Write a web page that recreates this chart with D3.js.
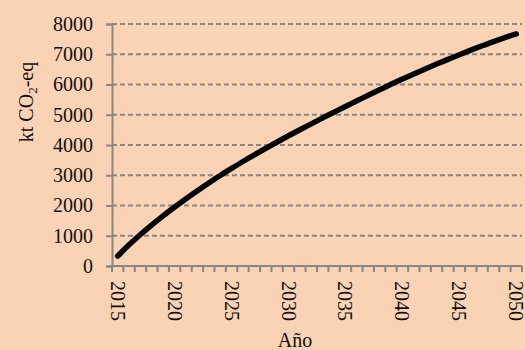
<!DOCTYPE html>
<html>
<head>
<meta charset="utf-8">
<script src="https://cdn.jsdelivr.net/npm/d3@7/dist/d3.min.js"></script>
<style>
  html, body { margin: 0; padding: 0; background: #f9d3b4; }
  svg { display: block; font-family: "Liberation Serif", "Times New Roman", serif; }
</style>
</head>
<body>
<svg id="chart" width="525" height="350"></svg>
<script>
// Annual emissions, kt CO2-eq
const years = d3.range(2015, 2051);
const emissions = [
  330, 700, 1040, 1360, 1660, 1950, 2225, 2490, 2745, 2990,
  3225, 3455, 3675, 3890, 4100, 4305, 4505, 4700, 4895, 5085,
  5275, 5460, 5645, 5825, 6005, 6180, 6350, 6515, 6675, 6830,
  6985, 7135, 7280, 7420, 7550, 7670
];
const yTicks = [0, 1000, 2000, 3000, 4000, 5000, 6000, 7000, 8000];
const xLabelYears = [2015, 2020, 2025, 2030, 2035, 2040, 2045, 2050];

const svg = d3.select("#chart");
const axisColor = "#878787";
const plotLeft = 112, plotRight = 522, plotTop = 24, plotBottom = 266;

const x = d3.scaleBand().domain(years).range([plotLeft, plotRight]).paddingInner(0).paddingOuter(0);
const y = d3.scaleLinear().domain([0, 8000]).range([plotBottom, plotTop]);

// dashed horizontal gridlines
svg.append("g").selectAll("line")
  .data(yTicks.filter(d => d > 0))
  .join("line")
  .attr("x1", plotLeft).attr("x2", plotRight)
  .attr("y1", d => y(d)).attr("y2", d => y(d))
  .attr("stroke", axisColor).attr("stroke-width", 2)
  .attr("stroke-dasharray", "5,3");

// y axis
const yAxis = svg.append("g")
  .attr("transform", `translate(${plotLeft},0)`)
  .call(d3.axisLeft(y).tickValues(yTicks).tickSize(6).tickPadding(13).tickFormat(d3.format("d")));
yAxis.select(".domain").attr("stroke", axisColor).attr("stroke-width", 2);
yAxis.selectAll(".tick line").attr("stroke", axisColor).attr("stroke-width", 2);
yAxis.selectAll(".tick text")
  .attr("font-size", 20).attr("fill", "#111")
  .attr("font-family", "Liberation Serif, Times New Roman, serif");

// x axis: labels at category centres, ticks on category boundaries
const xAxis = svg.append("g")
  .attr("transform", `translate(0,${plotBottom})`)
  .call(d3.axisBottom(x).tickValues(xLabelYears).tickSize(0).tickPadding(0));
xAxis.select(".domain").remove();
xAxis.selectAll(".tick text")
  .attr("font-size", 20).attr("fill", "#111")
  .attr("font-family", "Liberation Serif, Times New Roman, serif")
  .attr("text-anchor", "start")
  .attr("transform", "translate(0,15) rotate(90)")
  .attr("x", 0).attr("y", 0).attr("dy", "0.35em");

const boundaries = years.map(d => x(d)).concat([plotRight]);
svg.append("g").selectAll("line")
  .data(boundaries)
  .join("line")
  .attr("x1", d => d).attr("x2", d => d)
  .attr("y1", plotBottom).attr("y2", plotBottom + 6)
  .attr("stroke", axisColor).attr("stroke-width", 2);
svg.append("line")
  .attr("x1", plotLeft - 1).attr("x2", plotRight)
  .attr("y1", plotBottom).attr("y2", plotBottom)
  .attr("stroke", axisColor).attr("stroke-width", 2);

// emissions line
const line = d3.line()
  .x((d, i) => x(years[i]) + x.bandwidth() / 2)
  .y(d => y(d))
  .curve(d3.curveMonotoneX);
svg.append("path")
  .datum(emissions)
  .attr("d", line)
  .attr("fill", "none")
  .attr("stroke", "#000")
  .attr("stroke-width", 5.5)
  .attr("stroke-linecap", "round")
  .attr("stroke-linejoin", "round");

// axis titles
svg.append("text")
  .attr("x", (plotLeft + plotRight) / 2 - 22).attr("y", 347)
  .attr("text-anchor", "middle").attr("font-size", 20).attr("fill", "#111")
  .text("Año");

const yTitle = svg.append("text")
  .attr("transform", "translate(33,102) rotate(-90)")
  .attr("text-anchor", "middle").attr("font-size", 20).attr("fill", "#111");
yTitle.append("tspan").text("kt CO");
yTitle.append("tspan").attr("font-size", 13).attr("dy", 4).text("2");
yTitle.append("tspan").attr("dy", -4).text("-eq");
</script>
</body>
</html>
